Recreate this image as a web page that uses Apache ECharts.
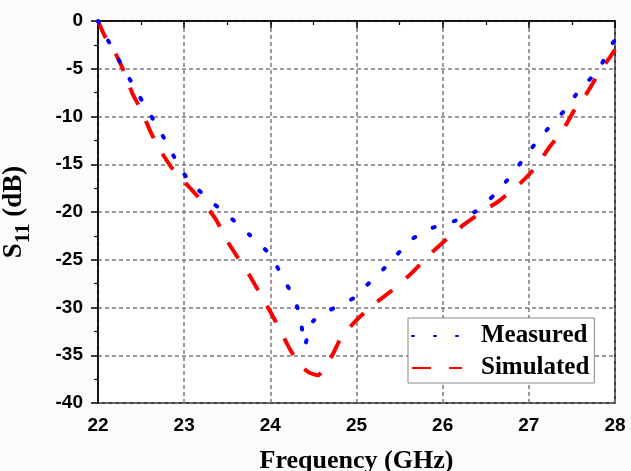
<!DOCTYPE html>
<html><head><meta charset="utf-8">
<script src="https://cdn.jsdelivr.net/npm/echarts@6/dist/echarts.min.js"></script>
<style>html,body{margin:0;padding:0;background:#fbfbfb}#c{width:631px;height:471px}</style>
</head><body><div id="c"></div><script>
// ---- data ----
const seriesNames = ['Measured', 'Simulated'];
const measuredFreq = [22.0, 22.15, 22.3, 22.45, 22.6, 22.75, 22.9, 23.03, 23.26, 23.5, 23.76, 24.0, 24.14, 24.28, 24.35, 24.40, 24.44, 24.5, 24.69, 24.85, 24.97, 25.15, 25.4, 25.62, 25.87, 26.12, 26.37, 26.61, 26.81, 26.99, 27.2, 27.41, 27.59, 27.81, 27.94, 28.0];
const measuredS11 = [0, -2.6, -5.0, -7.4, -9.7, -12.0, -14.5, -16.4, -18.5, -20.3, -22.4, -24.5, -26.8, -29.1, -31.2, -34.0, -32.8, -31.4, -30.3, -29.5, -29.0, -27.4, -25.2, -23.0, -21.7, -21.0, -20.0, -18.1, -16.0, -13.8, -11.5, -9.4, -7.2, -5.1, -2.7, -2.0];
const simulatedFreq = [22.0, 22.08, 22.22, 22.31, 22.40, 22.50, 22.60, 22.70, 22.85, 23.02, 23.23, 23.37, 23.49, 23.61, 23.77, 23.87, 24.01, 24.11, 24.23, 24.35, 24.45, 24.55, 24.70, 24.82, 24.98, 25.21, 25.40, 25.64, 25.82, 26.05, 26.25, 26.47, 26.66, 26.90, 27.08, 27.24, 27.39, 27.53, 27.67, 27.81, 27.94, 28.0];
const simulatedS11 = [0, -1.6, -3.7, -5.5, -7.6, -9.3, -11.4, -13.2, -15.3, -17.0, -19.1, -20.8, -22.9, -24.6, -26.8, -28.4, -30.6, -32.3, -34.4, -36.1, -36.8, -37.1, -35.3, -33.2, -31.5, -29.6, -28.3, -26.4, -24.7, -22.8, -21.3, -19.9, -18.8, -17.0, -15.3, -13.2, -11.5, -9.3, -7.6, -5.5, -3.8, -3.0];
const xTicks = [22, 23, 24, 25, 26, 27, 28];
const yTicks = [-40, -35, -30, -25, -20, -15, -10, -5, 0];
const xTitle = 'Frequency (GHz)';

const pairs = (xs, ys) => xs.map((x, i) => [x, ys[i]]);
const chart = echarts.init(document.getElementById('c'), null, {renderer: 'canvas'});
const gridDash = {type: [4, 3], color: '#7a7a7a', width: 1.5};
chart.setOption({
  animation: false,
  backgroundColor: '#fbfbfb',
  grid: {left: 98, top: 21, width: 517, height: 382, show: true, backgroundColor: '#fff', borderColor: '#000', borderWidth: 1.5,
    containLabel: false, outerBoundsMode: 'none'},
  legend: {
    data: seriesNames, orient: 'vertical', left: 408, top: 318,
    itemWidth: 50, itemHeight: 14, itemGap: 6, padding: [5, 5, 2, 3],
    backgroundColor: '#fff', borderColor: '#888', borderWidth: 1, selectedMode: false,
    itemStyle: {opacity: 0},
    textStyle: {fontFamily: 'Liberation Serif', fontWeight: 'bold', fontSize: 25, color: '#000', padding: [0, 0, 0, 14], lineHeight: 26}
  },
  xAxis: {
    type: 'value', min: xTicks[0], max: xTicks[xTicks.length - 1], interval: 1,
    name: xTitle, nameLocation: 'middle', nameGap: 45,
    nameTextStyle: {fontFamily: 'Liberation Serif', fontWeight: 'bold', fontSize: 26, color: '#000'},
    axisLine: {lineStyle: {color: '#000', width: 1.5}},
    axisTick: {length: 7, lineStyle: {color: '#000', width: 1.5}},
    minorTick: {show: true, splitNumber: 2, length: 4, lineStyle: {color: '#000', width: 1.2}},
    splitLine: {show: true, lineStyle: gridDash},
    axisLabel: {fontFamily: 'Liberation Sans', fontWeight: 'bold', fontSize: 19, color: '#000', margin: 13,
      formatter: v => xTicks.includes(v) ? String(v) : ''}
  },
  yAxis: {
    type: 'value', min: yTicks[0], max: yTicks[yTicks.length - 1], interval: 5,
    name: '{a|S}{b|11}{a| (dB)}', nameLocation: 'middle', nameGap: 64, nameRotate: 90,
    nameTextStyle: {color: '#000', rich: {
      a: {fontFamily: 'Liberation Serif', fontWeight: 'bold', fontSize: 27, color: '#000', padding: [0, 0, 6, 0], verticalAlign: 'bottom'},
      b: {fontFamily: 'Liberation Serif', fontWeight: 'bold', fontSize: 21, color: '#000', verticalAlign: 'bottom'}
    }},
    axisLine: {lineStyle: {color: '#000', width: 1.5}},
    axisTick: {length: 7, lineStyle: {color: '#000', width: 1.5}},
    minorTick: {show: true, splitNumber: 2, length: 4, lineStyle: {color: '#000', width: 1.2}},
    splitLine: {show: true, lineStyle: gridDash},
    axisLabel: {fontFamily: 'Liberation Sans', fontWeight: 'bold', fontSize: 19, color: '#000', margin: 15,
      formatter: v => yTicks.includes(v) ? String(v) : ''}
  },
  series: [
    {name: seriesNames[0], type: 'line', data: pairs(measuredFreq, measuredS11), symbol: 'none', smooth: 0.2, z: 3,
      lineStyle: {color: '#0000ff', width: 4, type: [2, 20], cap: 'round'}, itemStyle: {color: '#0000ff'}},
    {name: seriesNames[1], type: 'line', data: pairs(simulatedFreq, simulatedS11), symbol: 'none', smooth: 0.2, z: 2,
      lineStyle: {color: '#ff0000', width: 4, type: [19, 18], cap: 'butt'}, itemStyle: {color: '#ff0000'}}
  ]
});
</script></body></html>
